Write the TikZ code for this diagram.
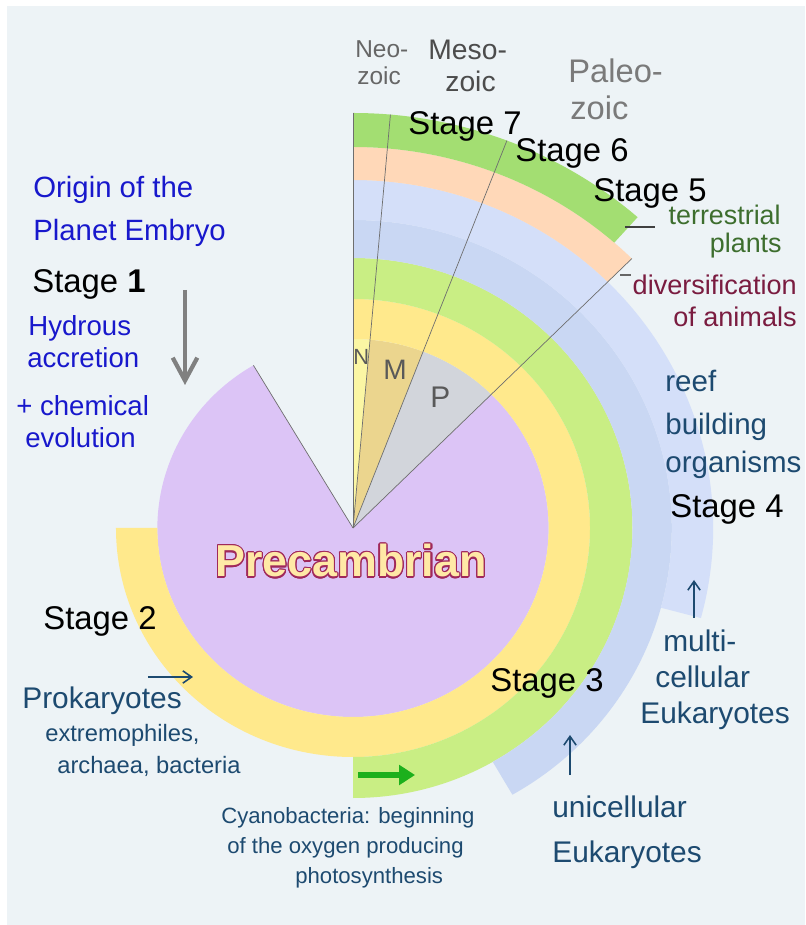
\documentclass[tikz,border=0pt]{standalone}
\usepackage{fontspec}
\setmainfont{Liberation Sans}
\usepackage{contour}
\usetikzlibrary{arrows.meta}

\definecolor{bgcol}{HTML}{EDF3F6}
\definecolor{precol}{HTML}{DCC4F6}
\definecolor{ncol}{HTML}{FBF6A4}
\definecolor{mcol}{HTML}{EBD58E}
\definecolor{pcol}{HTML}{D2D5DB}
\definecolor{yelcol}{HTML}{FFE98C}
\definecolor{grncol}{HTML}{C9EE84}
\definecolor{blucol}{HTML}{C9D7F3}
\definecolor{blutwocol}{HTML}{D4DFF9}
\definecolor{peachcol}{HTML}{FFD8B8}
\definecolor{grntwocol}{HTML}{A3DE72}
\definecolor{linecol}{HTML}{6E6E6E}
\definecolor{bluetxt}{HTML}{1818CC}
\definecolor{tealtxt}{HTML}{1D4A70}
\definecolor{terrcol}{HTML}{3D6E2E}
\definecolor{divcol}{HTML}{7A1C40}
\definecolor{pretext}{HTML}{FFE9A6}
\definecolor{preline}{HTML}{A0285A}
\definecolor{arrgreen}{HTML}{1CB01C}

% annular band: colour, from, to, inner, outer
\newcommand{\band}[5]{%
  \fill[#1] (#2:#4) arc[start angle=#2, end angle=#3, radius={#4*0.02cm}]
    -- (#3:#5) arc[start angle=#3, end angle=#2, radius={#5*0.02cm}] -- cycle;}
\newcommand{\fsz}[1]{\fontsize{#1}{#1}\selectfont}

\contourlength{0.7pt}

\begin{document}
\begin{tikzpicture}[
    x=0.02cm, y=0.02cm,
    lbl/.style={inner sep=0pt, anchor=base west},
    rlbl/.style={inner sep=0pt, anchor=base east},
    stage/.style={lbl, font=\fsz{18.7}, text=black},
    origin/.style={lbl, font=\fsz{16.7}, text=bluetxt},
    hydro/.style={lbl, font=\fsz{15.7}, text=bluetxt},
    euk/.style={lbl, font=\fsz{17}, text=tealtxt},
    cyano/.style={lbl, font=\fsz{12.6}, text=tealtxt},
    era/.style={lbl, text=black!60},
    wedge/.style={lbl, text=black!65},
    radial/.style={draw=linecol, line width=0.4pt},
    downarr/.style={draw=black!50, line width=2.4pt,
        -{Straight Barb[length=13pt, width=14pt]}},
    thinarr/.style={draw=tealtxt, line width=0.9pt,
        -{Straight Barb[length=5pt, width=7pt]}},
    greenarr/.style={draw=arrgreen, line width=3.6pt,
        -{Triangle[length=9pt, width=11pt]}},
]

% Frame
\useasboundingbox (-353,-397) rectangle (452,528);
\fill[white] (-353,-397) rectangle (452,528);
\fill[bgcol] (-346,-397) rectangle (452,522);

% Spiral
\begin{scope}[xscale=1.035]
  \fill[precol] (0,0) -- (120.6:189)
    arc[start angle=120.6, end angle=405, radius={189*0.02cm}] -- cycle;
  \fill[ncol] (0,0) -- (85:189) arc[start angle=85, end angle=90, radius={189*0.02cm}] -- cycle;
  \fill[mcol] (0,0) -- (69:189) arc[start angle=69, end angle=85, radius={189*0.02cm}] -- cycle;
  \fill[pcol] (0,0) -- (45:189) arc[start angle=45, end angle=69, radius={189*0.02cm}] -- cycle;

  \band{yelcol}{180}{450}{189}{229}
  \band{grncol}{-90}{90}{229}{270}
  \band{blucol}{-60}{90}{270}{308}
  \band{blutwocol}{-15}{90}{308}{348}
  \band{peachcol}{45}{90}{348}{381}
  \band{grntwocol}{48.5}{90}{381}{415}

  % Era lines
  \draw[radial] (0,0) -- (120.6:189);
  \draw[radial] (0,0) -- (90:415);
  \draw[radial] (0,0) -- (85:415);
  \draw[radial] (0,0) -- (69:415);
  \draw[radial] (0,0) -- (45:381);
\end{scope}

% Era names
\node[era, font=\fsz{13.9}] (neoA) at (2,470) {Neo-};
\node[era, font=\fsz{13.9}] (neoB) at (4,443) {zoic};
\node[era, font=\fsz{16.1}, text=black!70] (mesoA) at (75,468) {Meso-};
\node[era, font=\fsz{16.1}, text=black!70] (mesoB) at (92,436) {zoic};
\node[era, font=\fsz{18.6}, text=black!52] (paleoA) at (215,445) {Paleo-};
\node[era, font=\fsz{18.6}, text=black!52] (paleoB) at (217,408) {zoic};

\node[wedge, font=\fsz{12.5}] (nn) at (0,163) {N};
\node[wedge, font=\fsz{16}] (mm) at (30,148) {M};
\node[wedge, font=\fsz{17}] (pp) at (77,120) {P};

% Stages
\node[stage] (st7) at (55,393) {Stage 7};
\node[stage] (st6) at (162,366) {Stage 6};
\node[stage] (st5) at (240,326) {Stage 5};
\node[stage] (st4) at (317,10) {Stage 4};
\node[stage] (st3) at (137,-164) {Stage 3};
\node[stage] (st2) at (-310,-102) {Stage 2};
\node[stage] (st1) at (-321,235) {Stage \textbf{1}};

% Upper right notes
\node[rlbl, font=\fsz{15.3}, text=terrcol] (terrA) at (428,303) {terrestrial};
\node[rlbl, font=\fsz{15.3}, text=terrcol] (terrB) at (429,275) {plants};
\node[rlbl, font=\fsz{15.4}, text=divcol] (divA) at (444,233) {diversification};
\node[rlbl, font=\fsz{15.4}, text=divcol] (divB) at (444,201) {of animals};
\node[euk, font=\fsz{16.8}] (reefA) at (312,136) {reef};
\node[euk, font=\fsz{16.8}] (reefB) at (312,93) {building};
\node[euk, font=\fsz{16.8}] (reefC) at (312,55) {organisms};

\coordinate (terrL) at (272,301);
\coordinate (terrR) at (302,301);
\draw[black!75, line width=0.6pt] (terrL) -- (terrR);
\coordinate (divL) at (267,253);
\coordinate (divR) at (278,253);
\draw[black!60, line width=0.6pt] (divL) -- (divR);

% Left column
\node[origin] (orA) at (-320,330) {Origin of the};
\node[origin] (orB) at (-320,287) {Planet Embryo};
\node[hydro] (hyA) at (-325,192) {Hydrous};
\node[hydro] (hyB) at (-326,160) {accretion};
\node[hydro] (chA) at (-337,112) {+ chemical};
\node[hydro] (chB) at (-328,80) {evolution};

\coordinate (gdTop) at (-168,238);
\coordinate (gdBot) at (-168,143);
\draw[downarr] (gdTop) -- (gdBot);

% Centre
\node[inner sep=0pt, anchor=base, font=\bfseries\fsz{25.5}, text=pretext]
  (pre) at (-2,-49) {\contour{preline}{Precambrian}};

% Lower left
\node[euk] (prok) at (-331,-180) {Prokaryotes};
\node[euk, font=\fsz{13.5}] (extA) at (-308,-214) {extremophiles,};
\node[euk, font=\fsz{13.5}] (extB) at (-296,-245) {archaea, bacteria};
\coordinate (prokS) at (-205,-149);
\coordinate (prokE) at (-160,-149);
\draw[thinarr] (prokS) -- (prokE);

\coordinate (cyS) at (5,-247);
\coordinate (cyE) at (62,-247);
\draw[greenarr] (cyS) -- (cyE);
\node[cyano] (cyA) at (-132,-295) {Cyanobacteria: beginning};
\node[cyano] (cyB) at (-126,-325) {of the oxygen producing};
\node[cyano] (cyC) at (-58,-355) {photosynthesis};

% Lower right
\node[euk] (uniA) at (199,-289) {unicellular};
\node[euk] (uniB) at (199,-334) {Eukaryotes};
\coordinate (uniS) at (217,-247);
\coordinate (uniE) at (217,-207);
\draw[thinarr] (uniS) -- (uniE);

\node[euk] (mulA) at (310,-124) {multi-};
\node[euk] (mulB) at (302,-159) {cellular};
\node[euk] (mulC) at (287,-195) {Eukaryotes};
\coordinate (mulS) at (341,-90);
\coordinate (mulE) at (341,-52);
\draw[thinarr] (mulS) -- (mulE);

\end{tikzpicture}
\end{document}
